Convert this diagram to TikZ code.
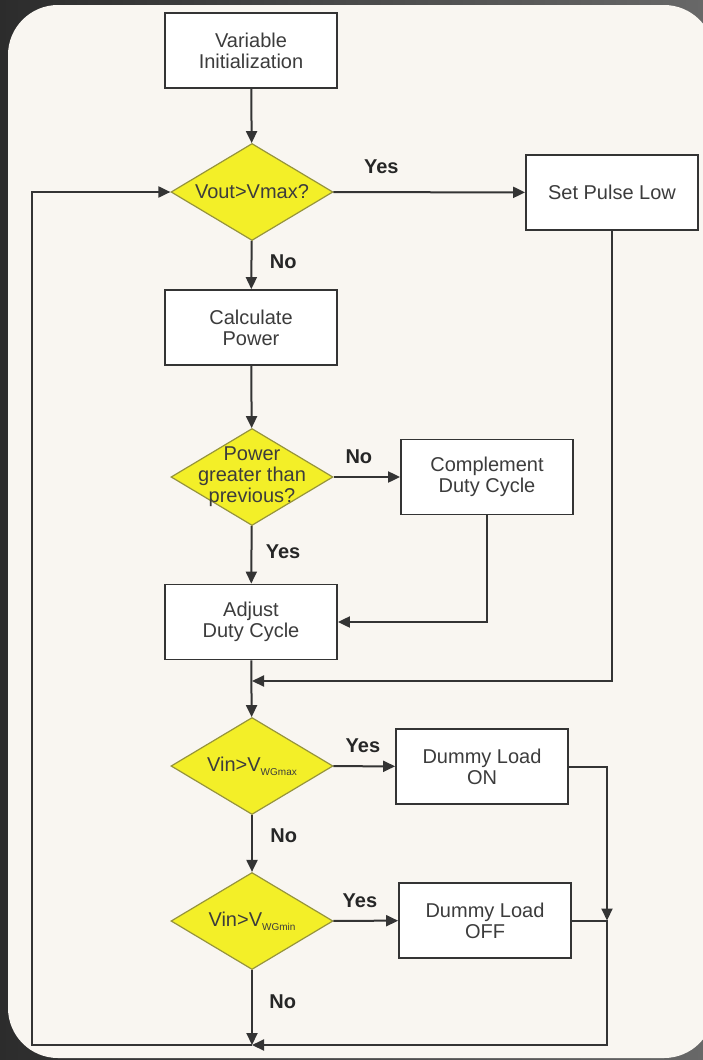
\documentclass[tikz,border=0pt]{standalone}
\usepackage{fontspec}
\setmainfont{Liberation Sans}
\usetikzlibrary{shapes.geometric, arrows.meta, positioning}
\definecolor{frame}{RGB}{44, 44, 44}
\definecolor{frameright}{RGB}{104, 104, 104}
\definecolor{paper}{RGB}{249, 246, 241}
\definecolor{edge}{RGB}{52, 52, 52}
\definecolor{decide}{RGB}{243, 239, 40}
\definecolor{decideedge}{RGB}{150, 148, 60}
\definecolor{inktext}{RGB}{60, 60, 60}
\newcommand{\wgsub}[1]{\raisebox{-0.35ex}{\fontsize{10}{10}\selectfont #1}}

\begin{document}
\begin{tikzpicture}[
	x=1pt, y=-1pt,
	>={Triangle[length=12pt, width=11pt]},
	font=\fontsize{20}{21}\selectfont,
	% Styles for the boxes, the decisions and the connectors
	process/.style={draw=edge, line width=1.8pt, fill=white, minimum width=172pt, minimum height=75pt, inner sep=0pt, align=center, text=inktext},
	decision/.style={diamond, draw=decideedge, line width=1.2pt, fill=decide, minimum width=162pt, minimum height=97pt, inner sep=0pt},
	dtext/.style={align=center, text=inktext},
	flow/.style={draw=edge, line width=2pt},
	answer/.style={font=\fontsize{20}{21}\selectfont\bfseries, text=black!85}
	]
	
	% ==========================================
	% 0. BACKGROUND AND PAPER
	% ==========================================
	\useasboundingbox (0,0) rectangle (703,1060);
	\shade[left color=frame, right color=frameright] (0,0) rectangle (703,1060);
	\fill[paper, rounded corners=50pt] (8,5) rectangle (714,1058);
	
	% ==========================================
	% 1. OUTPUT VOLTAGE CHECK
	% ==========================================
	\node[process] (init) at (251,50.5) {Variable\\Initialization};
	\node[decision, label={[dtext]center:Vout>Vmax?}] (vmax) at (252,192) {};
	\node[process] (setlow) at (612,192.5) {Set Pulse Low};
	
	% ==========================================
	% 2. POWER TRACKING
	% ==========================================
	\node[process] (calc) at (251,327.5) {Calculate\\Power};
	\node[decision, label={[dtext]center:{Power\\greater than\\previous?}}] (power) at (252,477) {};
	\node[process] (compl) at (487,477) {Complement\\Duty Cycle};
	\node[process] (adjust) at (251,622) {Adjust\\Duty Cycle};
	
	% ==========================================
	% 3. DUMMY LOAD SWITCHING
	% ==========================================
	\node[decision, label={[dtext]center:Vin>V\wgsub{WGmax}}] (wgmax) at (252,766) {};
	\node[process] (loadon) at (482,766.5) {Dummy Load\\ON};
	\node[decision, label={[dtext]center:Vin>V\wgsub{WGmin}}] (wgmin) at (252,921) {};
	\node[process] (loadoff) at (485,920.5) {Dummy Load\\OFF};
	
	% Junctions of the return lines
	\coordinate (merge) at (252,681);
	\coordinate (rail) at (607,920.5);
	\coordinate (corner) at (607,1045);
	\coordinate (bottom) at (252,1045);
	\coordinate (loopleft) at (32,1045);
	
	% ==========================================
	% 4. CONNECTORS
	% ==========================================
	\draw[flow, ->] (init) -- (vmax);
	\draw[flow, ->] (vmax) -- node[answer, pos=.25, above=14pt] (yes1) {Yes} (setlow);
	\draw[flow, ->] (vmax) -- node[answer, pos=.44, right=14pt] (no1) {No} (calc);
	\draw[flow, ->] (calc) -- (power);
	\draw[flow, ->] (power) -- node[answer, pos=.38, above=9pt] (no2) {No} (compl);
	\draw[flow, ->] (power) -- node[answer, pos=.45, right=10pt] (yes2) {Yes} (adjust);
	\draw[flow, ->] (compl.south) |- (adjust.east);
	\draw[flow, ->] (setlow.south) |- (merge);
	\draw[flow, ->] (adjust) -- (wgmax);
	\draw[flow, ->] (wgmax) -- node[answer, pos=.48, above=9pt] (yes3) {Yes} (loadon);
	\draw[flow, ->] (wgmax) -- node[answer, pos=.37, right=14pt] (no3) {No} (wgmin);
	\draw[flow, ->] (wgmin) -- node[answer, pos=.41, above=9pt] (yes4) {Yes} (loadoff);
	\draw[flow, ->] (wgmin) -- node[answer, pos=.42, right=13pt] (no4) {No} (bottom);
	\draw[flow, ->] (loadon.east) -| (rail);
	\draw[flow, ->] (loadoff.east) -| (corner) -- (bottom);
	\draw[flow, ->] (bottom) -- (loopleft) |- (vmax.west);
	
\end{tikzpicture}
\end{document}
